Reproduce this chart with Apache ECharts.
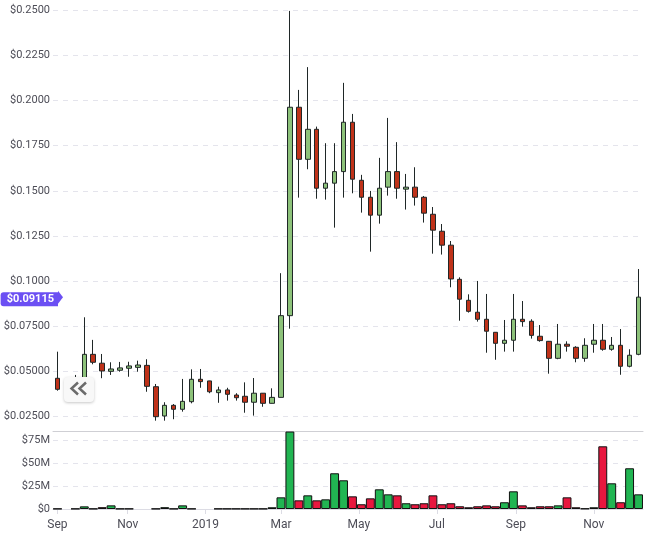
<!DOCTYPE html>
<html><head><meta charset="utf-8">
<script src="https://cdn.jsdelivr.net/npm/echarts@6.0.0/dist/echarts.min.js"></script>
<style>html,body{margin:0;padding:0;background:#fff}#c{width:650px;height:538px}</style>
</head><body><div id="c"></div>
<script>
// Weekly candles
const dates = [
 '2018-09-07','2018-09-14','2018-09-21','2018-09-28','2018-10-05','2018-10-12','2018-10-19','2018-10-26',
 '2018-11-02','2018-11-09','2018-11-16','2018-11-23','2018-11-30','2018-12-07','2018-12-14','2018-12-21','2018-12-28',
 '2019-01-04','2019-01-11','2019-01-18','2019-01-25','2019-02-01','2019-02-08','2019-02-15','2019-02-22',
 '2019-03-01','2019-03-08','2019-03-15','2019-03-22','2019-03-29','2019-04-05','2019-04-12','2019-04-19','2019-04-26',
 '2019-05-03','2019-05-10','2019-05-17','2019-05-24','2019-05-31','2019-06-07','2019-06-14','2019-06-21','2019-06-28',
 '2019-07-05','2019-07-12','2019-07-19','2019-07-26','2019-08-02','2019-08-09','2019-08-16','2019-08-23','2019-08-30',
 '2019-09-06','2019-09-13','2019-09-20','2019-09-27','2019-10-04','2019-10-11','2019-10-18','2019-10-25',
 '2019-11-01','2019-11-08','2019-11-15','2019-11-22','2019-11-29','2019-12-06'
];
const openP = [
 0.04625,0.0405,0.0425,0.0445,0.0595,0.0546,0.0501,0.0507,
 0.0518,0.0523,0.0534,0.0416,0.0254,0.0313,0.0291,0.0333,0.0457,
 0.0448,0.0383,0.0398,0.0370,0.0363,0.0330,0.0380,0.0324,
 0.0357,0.0809,0.1962,0.1674,0.1840,0.1514,0.1542,0.1606,0.1879,
 0.1558,0.1464,0.1365,0.1520,0.1606,0.1509,0.1520,0.1464,0.1370,
 0.1276,0.1199,0.1010,0.0894,0.0828,0.0789,0.0717,0.0656,0.0673,
 0.0789,0.0778,0.0695,0.0667,0.0573,0.0651,0.0634,0.0573,
 0.0651,0.0673,0.0623,0.0645,0.0529,0.0595
];
const closeP = [
 0.04016,0.0425,0.0445,0.0595,0.0551,0.0503,0.0514,0.0520,
 0.0531,0.0536,0.0418,0.0250,0.0313,0.0291,0.0335,0.0457,0.0444,
 0.0388,0.0398,0.0374,0.0355,0.0330,0.0380,0.0324,0.0357,
 0.0809,0.1962,0.1674,0.1840,0.1514,0.1542,0.1606,0.1879,0.1564,
 0.1464,0.1365,0.1514,0.1606,0.1514,0.1520,0.1464,0.1376,0.1282,
 0.1199,0.1012,0.0900,0.0833,0.0789,0.0723,0.0656,0.0673,0.0789,
 0.0776,0.0700,0.0671,0.0573,0.0651,0.0640,0.0573,0.0645,
 0.0673,0.0623,0.0645,0.0529,0.0590,0.09115
];
const lowP = [
 0.03939,0.0395,0.0410,0.0435,0.0540,0.0463,0.0481,0.0499,
 0.0471,0.0499,0.0388,0.0228,0.0228,0.0236,0.0278,0.0324,0.0410,
 0.0380,0.0327,0.0339,0.0339,0.0272,0.0256,0.0305,0.0323,
 0.0356,0.0737,0.1462,0.1619,0.1456,0.1451,0.1296,0.1462,0.1486,
 0.1379,0.1163,0.1318,0.1473,0.1456,0.1396,0.1418,0.1324,0.1152,
 0.1147,0.0966,0.0781,0.0826,0.0776,0.0604,0.0565,0.0610,0.0610,
 0.0748,0.0682,0.0665,0.0488,0.0568,0.0610,0.0551,0.0554,
 0.0604,0.0615,0.0615,0.0482,0.0523,0.0590
];
const highP = [
 0.06097,0.0445,0.0481,0.0800,0.0675,0.0597,0.0551,0.0553,
 0.0554,0.0560,0.0568,0.0431,0.0330,0.0320,0.0459,0.0512,0.0514,
 0.0449,0.0416,0.0410,0.0380,0.0440,0.0464,0.0381,0.0407,
 0.1044,0.2495,0.2058,0.2184,0.1855,0.1763,0.1763,0.2097,0.1925,
 0.1588,0.1499,0.1682,0.1903,0.1769,0.1593,0.1630,0.1471,0.1410,
 0.1316,0.1222,0.1021,0.0927,0.1001,0.0929,0.0718,0.0785,0.0929,
 0.0890,0.0789,0.0757,0.0669,0.0763,0.0667,0.0640,0.0684,
 0.0763,0.0763,0.0691,0.0735,0.0623,0.1067
];
// Volume in millions of USD
const volumeM = [
 0.3,0,0.3,2.9,0.3,2.0,4.0,0.3,
 0.3,0,0,0.3,2.0,0.3,4.0,0.3,0,
 0,0.3,0.3,0.3,0.3,0.3,0.3,1.9,
 12.8,85.0,9.5,15.0,9.5,10.6,39.2,31.5,13.9,
 5.2,11.7,21.6,16.1,15.0,6.3,5.2,6.3,15.0,
 5.2,6.3,3.0,1.9,3.0,4.0,3.0,7.4,19.4,
 4.0,1.9,3.0,3.0,4.0,12.8,1.9,0.5,
 1.9,68.8,28.2,7.4,44.7,16.1
];
const priceTicks = [0.025,0.05,0.075,0.1,0.125,0.15,0.175,0.2,0.225,0.25];
const volTicks = [0,25e6,50e6,75e6];
const xTickDates = ['2018-09-07','2018-11-01','2019-01-01','2019-03-01','2019-05-01','2019-07-01','2019-09-01','2019-11-01'];
const xTickLabels = ['Sep','Nov','2019','Mar','May','Jul','Sep','Nov'];

const ts = s => +echarts.number.parseDate(s);
const X_MIN = ts('2018-09-03 12:00:00');
const X_MAX = ts('2019-12-09 12:00:00');
const UP = '#8dc27a', DOWN = '#bf3219', WICK = '#1f2727';
const UP_VOL = '#21b552', DOWN_VOL = '#e8173f';
const TAG = '#6b4ff3';
const LABEL = '#4d4d57';

const chart = echarts.init(document.getElementById('c'));
const candleData = dates.map((d,i)=>[ts(d), openP[i], closeP[i], lowP[i], highP[i]]);
const volData = dates.map((d,i)=>({
  value:[ts(d), volumeM[i] > 0 ? volumeM[i]*1e6 : '-'],
  itemStyle:{color: closeP[i] >= openP[i] ? UP_VOL : DOWN_VOL}
}));
const xTickVals = xTickDates.map(ts);
const lastClose = closeP[closeP.length-1];

const option = {
  animation:false,
  textStyle:{fontFamily:'Roboto'},
  grid:[
    {left:53,right:7,top:10,height:421},
    {left:53,right:7,top:431,height:78}
  ],
  xAxis:[
    {type:'value',gridIndex:0,min:X_MIN,max:X_MAX,scale:true,
     axisLabel:{show:false},axisTick:{show:false},
     axisLine:{show:true,lineStyle:{color:'#cfcfd4',width:1}},splitLine:{show:false}},
    {type:'value',gridIndex:1,min:X_MIN,max:X_MAX,scale:true,
     axisLine:{show:true,lineStyle:{color:'#dcdce4'}},
     axisTick:{show:true,customValues:xTickVals,length:5,lineStyle:{color:'#dcdce4'}},
     axisLabel:{customValues:xTickVals,formatter:(v)=>{const k=xTickVals.indexOf(+v);return k>=0?xTickLabels[k]:'';},
       color:LABEL,fontSize:12,margin:10},
     splitLine:{show:false}}
  ],
  yAxis:[
    {type:'value',gridIndex:0,min:0.01709,max:0.25,
     axisLine:{show:false},axisTick:{show:false,customValues:priceTicks},
     axisLabel:{customValues:priceTicks,formatter:(v)=>'$'+Number(v).toPrecision(4),color:LABEL,fontSize:11,margin:3},
     splitLine:{show:true,lineStyle:{color:'#e4e4ec',type:[5,5]}}},
    {type:'value',gridIndex:1,min:0,max:85.6e6,
     axisLine:{show:false},axisTick:{show:false,customValues:volTicks},
     axisLabel:{customValues:volTicks,formatter:(v)=>'$'+(v/1e6)+(v>0?'M':''),color:LABEL,fontSize:11,margin:3},
     splitLine:{show:true,lineStyle:{color:'#e4e4ec',type:[5,5]}}}
  ],
  series:[
    {type:'candlestick',xAxisIndex:0,yAxisIndex:0,barWidth:5,data:candleData,
     itemStyle:{color:UP,color0:DOWN,borderColor:WICK,borderColor0:WICK,borderWidth:1},
     markLine:{symbol:['none','none'],silent:true,animation:false,
       lineStyle:{color:'rgba(0,0,0,0)',width:1,type:'solid'},
       label:{show:true,position:'start',formatter:'$'+lastClose,color:'#ffffff',backgroundColor:TAG,opacity:1,
         fontWeight:'bold',fontSize:11,padding:[2,4,1,6],borderRadius:[3,0,0,3],distance:-5},
       emphasis:{disabled:true},
       data:[{yAxis:lastClose}]},
     markPoint:{silent:true,animation:false,symbol:'triangle',symbolSize:[13,5],symbolRotate:-90,
       symbolOffset:[7.5,0],itemStyle:{color:TAG},label:{show:false},
       data:[{coord:[X_MIN,lastClose]}]}
    },
    {type:'bar',xAxisIndex:1,yAxisIndex:1,barWidth:8.9,data:volData,
     itemStyle:{borderColor:'#111',borderWidth:1}}
  ],
  graphic:[
    {type:'group',left:64,top:377,z:100,children:[
      {type:'rect',z:100,shape:{x:0,y:0,width:30,height:25,r:4},
       style:{fill:'#f8f8f8',shadowBlur:3,shadowColor:'rgba(0,0,0,0.22)',shadowOffsetY:1}},
      {type:'polyline',z:101,shape:{points:[[14,5.5],[7.5,11.5],[14,17.5]]},style:{stroke:'#6b6b6b',lineWidth:2.5,fill:null}},
      {type:'polyline',z:101,shape:{points:[[22,5.5],[15.5,11.5],[22,17.5]]},style:{stroke:'#6b6b6b',lineWidth:2.5,fill:null}}
    ]}
  ]
};
chart.setOption(option);
</script>
</body></html>
